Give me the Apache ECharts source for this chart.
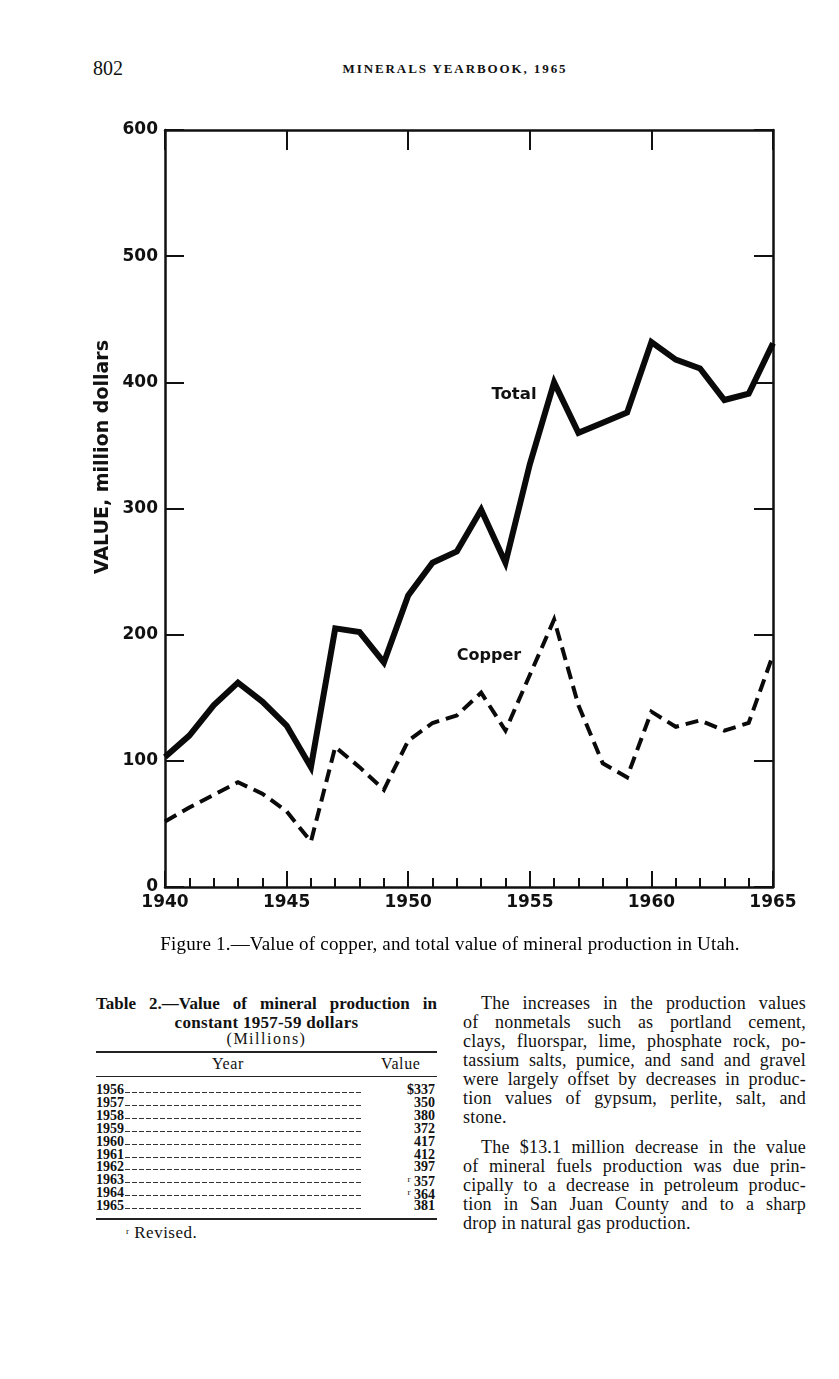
<!DOCTYPE html>
<html>
<head>
<meta charset="utf-8">
<script src="https://cdn.jsdelivr.net/npm/echarts@6/dist/echarts.min.js"></script>
<style>
  html, body { margin:0; padding:0; background:#fff; }
  body { width:839px; height:1379px; position:relative; overflow:hidden; font-family:"Liberation Serif","DejaVu Serif",serif; color:#111; }
  #chart { position:absolute; left:0; top:0; width:839px; height:960px; }
  .abs { position:absolute; white-space:nowrap; }
  .pline { position:absolute; left:463px; width:343px; height:19px; line-height:19px; font-size:18px; letter-spacing:0.2px; text-align:justify; text-align-last:justify; white-space:nowrap; }
  .pline.last { text-align-last:left; }
  .row { position:absolute; left:96px; width:341px; height:13px; line-height:13px; font-size:14px; font-weight:bold; }
  .row .yr { position:absolute; left:0; }
  .row .lead { position:absolute; left:29px; width:236px; top:9px; height:1px; background:repeating-linear-gradient(90deg,#333 0 5px,transparent 5px 7px); }
  .row .val { position:absolute; right:2px; }
  sup { font-size:9px; font-weight:normal; vertical-align:4px; }
</style>
</head>
<body>
<div class="abs" style="left:93px;top:56px;font-size:20px;line-height:24px;">802</div>
<div class="abs" style="left:342px;top:61px;width:226px;text-align:center;font-size:13px;line-height:16px;font-weight:bold;letter-spacing:1.9px;">MINERALS YEARBOOK, 1965</div>

<div id="chart"></div>

<div class="abs" style="left:150px;top:933px;width:600px;text-align:center;font-size:19px;line-height:22px;letter-spacing:0.2px;color:#000;">Figure 1.—Value of copper, and total value of mineral production in Utah.</div>

<div id="table"></div>
<div id="para"></div>

<script>
// ---------- data ----------
const years = [1940,1941,1942,1943,1944,1945,1946,1947,1948,1949,1950,1951,1952,1953,1954,1955,1956,1957,1958,1959,1960,1961,1962,1963,1964,1965];
const totalValues  = [103,120,144,162,147,128,95,205,202,178,231,257,266,299,257,335,400,360,368,376,432,418,411,386,391,431];
const copperValues = [52,63,73,83,74,60,36,111,95,77,116,130,136,154,124,168,212,144,98,87,139,127,132,124,130,184];
const xTickLabels = ['1940','1945','1950','1955','1960','1965'];
const yTickLabels = ['0','100','200','300','400','500','600'];

const tableYears  = ['1956','1957','1958','1959','1960','1961','1962','1963','1964','1965'];
const tableValues = ['$337','350','380','372','417','412','397','357','364','381'];
const tableRevised = [false,false,false,false,false,false,false,true,true,false];

// ---------- table ----------
(function(){
  const t = document.getElementById('table');
  let h = '';
  h += '<div class="abs" style="left:96px;top:994px;width:341px;font-size:17px;line-height:20px;font-weight:bold;text-align:justify;text-align-last:justify;">Table 2.—Value of mineral production in</div>';
  h += '<div class="abs" style="left:96px;top:1013px;width:341px;text-align:center;font-size:17px;line-height:20px;font-weight:bold;letter-spacing:0.3px;">constant 1957-59 dollars</div>';
  h += '<div class="abs" style="left:96px;top:1030px;width:341px;text-align:center;font-size:16px;line-height:18px;letter-spacing:1.5px;">(Millions)</div>';
  h += '<div class="abs" style="left:96px;top:1051px;width:341px;border-top:2px solid #222;"></div>';
  h += '<div class="abs" style="left:212px;top:1055px;font-size:16px;line-height:18px;letter-spacing:0.6px;">Year</div>';
  h += '<div class="abs" style="left:381px;top:1055px;font-size:16px;line-height:18px;letter-spacing:0.6px;">Value</div>';
  h += '<div class="abs" style="left:96px;top:1076px;width:341px;border-top:1px solid #222;"></div>';
  tableYears.forEach((y,i)=>{
    const top = 1083 + i*12.9;
    const v = (tableRevised[i] ? '<sup>r</sup> ' : '') + tableValues[i];
    h += '<div class="row" style="top:'+top+'px"><span class="yr">'+y+'</span><span class="lead"></span><span class="val">'+v+'</span></div>';
  });
  h += '<div class="abs" style="left:96px;top:1218px;width:341px;border-top:2px solid #222;"></div>';
  h += '<div class="abs" style="left:126px;top:1222px;font-size:17px;line-height:19px;letter-spacing:0.5px;"><sup>r</sup> Revised.</div>';
  t.innerHTML = h;
})();

// ---------- paragraph ----------
(function(){
  const lines = [
    ['The increases in the production values', 1003, true, false],
    ['of nonmetals such as portland cement,', 1022, false, false],
    ['clays, fluorspar, lime, phosphate rock, po-', 1041, false, false],
    ['tassium salts, pumice, and sand and gravel', 1060, false, false],
    ['were largely offset by decreases in produc-', 1079, false, false],
    ['tion values of gypsum, perlite, salt, and', 1098, false, false],
    ['stone.', 1117, false, true],
    ['The $13.1 million decrease in the value', 1147, true, false],
    ['of mineral fuels production was due prin-', 1166, false, false],
    ['cipally to a decrease in petroleum produc-', 1185, false, false],
    ['tion in San Juan County and to a sharp', 1204, false, false],
    ['drop in natural gas production.', 1223, false, true]
  ];
  let h = '';
  lines.forEach(l=>{
    const indent = l[2] ? 'left:481px;width:325px;' : '';
    h += '<div class="pline'+(l[3]?' last':'')+'" style="top:'+(l[1]-9.5)+'px;'+indent+'">'+l[0]+'</div>';
  });
  document.getElementById('para').innerHTML = h;
})();

// ---------- chart ----------
const chart = echarts.init(document.getElementById('chart'), null, {renderer:'canvas'});
const labelFont = {color:'#111', fontFamily:'DejaVu Sans', fontWeight:'bold', fontSize:17};
const axisLineStyle = {color:'#111', width:2.5};
const option = {
  animation:false,
  backgroundColor:'transparent',
  grid:{left:165, top:130, width:608, height:757, containLabel:false},
  xAxis:[
    {type:'value', position:'bottom', min:1940, max:1965, interval:5,
     axisLine:{show:true, onZero:false, lineStyle:axisLineStyle},
     axisTick:{show:true, inside:true, length:16, lineStyle:{color:'#111', width:2}},
     minorTick:{show:true, splitNumber:5, length:9, lineStyle:{color:'#111', width:2}},
     axisLabel:Object.assign({margin:7, formatter:(v)=>xTickLabels[Math.round((v-1940)/5)]||''}, labelFont),
     splitLine:{show:false}, minorSplitLine:{show:false}},
    {type:'value', position:'top', min:1940, max:1965, interval:5,
     axisLine:{show:true, onZero:false, lineStyle:axisLineStyle},
     axisTick:{show:true, inside:true, length:20, lineStyle:{color:'#111', width:2}},
     axisLabel:{show:false}, splitLine:{show:false}}
  ],
  yAxis:[
    {type:'value', position:'left', min:0, max:600, interval:100,
     axisLine:{show:true, onZero:false, lineStyle:axisLineStyle},
     axisTick:{show:true, inside:true, length:19, lineStyle:{color:'#111', width:2}},
     axisLabel:Object.assign({margin:7, formatter:(v)=>yTickLabels[Math.round(v/100)]}, labelFont),
     splitLine:{show:false}},
    {type:'value', position:'right', min:0, max:600, interval:100,
     axisLine:{show:true, onZero:false, lineStyle:axisLineStyle},
     axisTick:{show:true, inside:true, length:19, lineStyle:{color:'#111', width:2}},
     axisLabel:{show:false}, splitLine:{show:false}}
  ],
  series:[
    {name:'Total', type:'line', xAxisIndex:0, yAxisIndex:0, symbol:'none', silent:true,
     data:years.map((y,i)=>[y,totalValues[i]]),
     lineStyle:{color:'#0a0a0a', width:6, join:'miter', cap:'butt'}},
    {name:'Copper', type:'line', xAxisIndex:0, yAxisIndex:0, symbol:'none', silent:true,
     data:years.map((y,i)=>[y,copperValues[i]]),
     lineStyle:{color:'#0a0a0a', width:4, type:[13,7], join:'miter', cap:'butt'}}
  ],
  graphic:[
    {type:'text', x:103, y:457, rotation:Math.PI/2,
     style:{text:'VALUE, million dollars', fill:'#111', font:'bold 19px "DejaVu Sans"', textAlign:'center', textVerticalAlign:'middle'}},
    {type:'text', x:514, y:395,
     style:{text:'Total', fill:'#111', font:'bold 16.5px "DejaVu Sans"', textAlign:'center', textVerticalAlign:'middle'}},
    {type:'text', x:489, y:656,
     style:{text:'Copper', fill:'#111', font:'bold 16px "DejaVu Sans"', textAlign:'center', textVerticalAlign:'middle'}}
  ]
};
chart.setOption(option);
</script>
</body>
</html>
